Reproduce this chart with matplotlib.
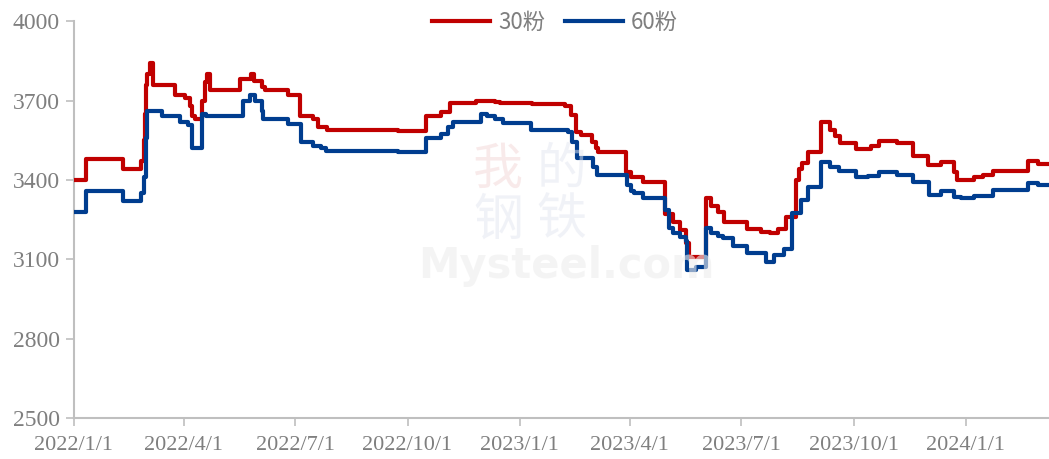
import numpy as np
import pandas as pd
import matplotlib
matplotlib.use("Agg")
import matplotlib.pyplot as plt

# 30粉 (step changes: start date, price)
red_dates = [
    "2022-01-01", "2022-01-11", "2022-02-10", "2022-02-25", "2022-02-27", "2022-02-28",
    "2022-03-01", "2022-03-02", "2022-03-04", "2022-03-07", "2022-03-25", "2022-04-02",
    "2022-04-06", "2022-04-08", "2022-04-10", "2022-04-16", "2022-04-18", "2022-04-20",
    "2022-04-22", "2022-05-17", "2022-05-26", "2022-05-28", "2022-06-04", "2022-06-06",
    "2022-06-25", "2022-07-05", "2022-07-16", "2022-07-20", "2022-07-27", "2022-09-23",
    "2022-10-16", "2022-10-28", "2022-11-05", "2022-11-26", "2022-12-12", "2022-12-16",
    "2023-01-11", "2023-02-07", "2023-02-12", "2023-02-16", "2023-02-20", "2023-03-01",
    "2023-03-04", "2023-03-06", "2023-03-29", "2023-04-02", "2023-04-12", "2023-04-30",
    "2023-05-06", "2023-05-12", "2023-05-17", "2023-05-19", "2023-06-02", "2023-06-06",
    "2023-06-12", "2023-06-17", "2023-07-06", "2023-07-17", "2023-07-25", "2023-07-31",
    "2023-08-07", "2023-08-15", "2023-08-17", "2023-08-20", "2023-08-25", "2023-09-04",
    "2023-09-12", "2023-09-16", "2023-09-20", "2023-10-03", "2023-10-15", "2023-10-22",
    "2023-11-06", "2023-11-19", "2023-12-01", "2023-12-12", "2023-12-22", "2023-12-25",
    "2024-01-08", "2024-01-15", "2024-01-23", "2024-02-21", "2024-02-29", "2024-03-09",
]
red_vals = [
    3400, 3480, 3440, 3470, 3550, 3650,
    3760, 3800, 3840, 3760, 3720, 3710,
    3680, 3640, 3630, 3700, 3770, 3800,
    3740, 3780, 3800, 3775, 3750, 3740,
    3720, 3640, 3630, 3600, 3590, 3585,
    3640, 3655, 3690, 3700, 3695, 3690,
    3685, 3680, 3645, 3580, 3570, 3545,
    3520, 3505, 3430, 3410, 3392, 3270,
    3240, 3210, 3160, 3108, 3330, 3300,
    3280, 3240, 3215, 3205, 3200, 3215,
    3260, 3400, 3440, 3465, 3505, 3618,
    3590, 3565, 3540, 3515, 3530, 3547,
    3540, 3490, 3455, 3467, 3430, 3400,
    3410, 3420, 3433, 3470, 3460, 3460,
]

# 60粉
blue_dates = [
    "2022-01-01", "2022-01-11", "2022-02-10", "2022-02-25", "2022-02-27", "2022-03-01",
    "2022-03-02", "2022-03-14", "2022-03-29", "2022-04-04", "2022-04-08", "2022-04-16",
    "2022-04-19", "2022-05-19", "2022-05-25", "2022-05-29", "2022-06-04", "2022-06-05",
    "2022-06-25", "2022-07-06", "2022-07-16", "2022-07-22", "2022-07-26", "2022-09-23",
    "2022-10-16", "2022-10-28", "2022-11-03", "2022-11-07", "2022-11-30", "2022-12-05",
    "2022-12-12", "2022-12-18", "2023-01-10", "2023-02-09", "2023-02-13", "2023-02-17",
    "2023-03-02", "2023-03-05", "2023-03-30", "2023-04-02", "2023-04-04", "2023-04-12",
    "2023-04-30", "2023-05-03", "2023-05-06", "2023-05-12", "2023-05-17", "2023-05-18",
    "2023-05-25", "2023-06-02", "2023-06-06", "2023-06-12", "2023-06-16", "2023-06-24",
    "2023-07-06", "2023-07-21", "2023-07-28", "2023-08-05", "2023-08-12", "2023-08-19",
    "2023-08-25", "2023-09-04", "2023-09-12", "2023-09-19", "2023-10-03", "2023-10-13",
    "2023-10-22", "2023-11-06", "2023-11-19", "2023-12-02", "2023-12-12", "2023-12-22",
    "2023-12-28", "2024-01-08", "2024-01-23", "2024-02-21", "2024-02-29", "2024-03-09",
]
blue_vals = [
    3280, 3360, 3320, 3350, 3410, 3560,
    3660, 3640, 3620, 3607, 3520, 3650,
    3640, 3700, 3720, 3700, 3660, 3630,
    3610, 3545, 3530, 3520, 3510, 3505,
    3560, 3573, 3600, 3620, 3650, 3640,
    3630, 3615, 3588, 3580, 3545, 3483,
    3450, 3418, 3380, 3360, 3350, 3331,
    3285, 3220, 3200, 3185, 3170, 3060,
    3070, 3220, 3200, 3190, 3180, 3150,
    3125, 3090, 3115, 3140, 3275, 3325,
    3373, 3467, 3450, 3433, 3410, 3415,
    3430, 3420, 3392, 3343, 3358, 3335,
    3330, 3340, 3362, 3390, 3380, 3380,
]

tick_dates = ["2022-01-01", "2022-04-01", "2022-07-01", "2022-10-01", "2023-01-01",
              "2023-04-01", "2023-07-01", "2023-10-01", "2024-01-01"]
tick_labels = ["2022/1/1", "2022/4/1", "2022/7/1", "2022/10/1", "2023/1/1",
               "2023/4/1", "2023/7/1", "2023/10/1", "2024/1/1"]
y_ticks = [2500, 2800, 3100, 3400, 3700, 4000]

plt.rcParams['font.family'] = ['Noto Sans CJK SC', 'DejaVu Sans']

fig = plt.figure(figsize=(10.49, 4.59), dpi=100)
ax = fig.add_axes([0.0705, 0.089, 0.9295, 0.865])

grey = "#bfbfbf"
label_col = "#7f7f7f"

#Watermark, very faint
wm = dict(ha="center", va="center", fontsize=36, alpha=0.5, family=["Noto Sans CJK SC"])
fig.text(0.475, 0.63, "我", color="#f3d6d6", **wm)
fig.text(0.535, 0.63, "的", color="#e3e6f0", **wm)
fig.text(0.475, 0.52, "钢", color="#e3e6f0", **wm)
fig.text(0.535, 0.52, "铁", color="#e3e6f0", **wm)
fig.text(0.54, 0.42, "Mysteel.com", ha="center", va="center", fontsize=30,
         color="#eeeeee", alpha=0.6, fontweight="bold", family=["DejaVu Sans"])

ax.plot(pd.to_datetime(red_dates), red_vals, drawstyle="steps-post",
        color="#C00000", lw=3.0, label="30粉", zorder=3)
ax.plot(pd.to_datetime(blue_dates), blue_vals, drawstyle="steps-post",
        color="#003D8F", lw=3.0, label="60粉", zorder=3)

ax.set_ylim(2500, 4000)
ax.set_xlim(pd.Timestamp("2022-01-01"), pd.Timestamp("2024-03-09"))
ax.set_yticks(y_ticks)
ax.set_xticks(pd.to_datetime(tick_dates))
ax.set_xticklabels(tick_labels)

for s in ["top", "right"]:
    ax.spines[s].set_visible(False)
for s in ["left", "bottom"]:
    ax.spines[s].set_color(grey)
    ax.spines[s].set_linewidth(1.5)

ax.tick_params(axis="both", colors=grey, length=6, width=1.2)
for lab in ax.get_xticklabels():
    lab.set_family(["Liberation Serif"])
    lab.set_fontsize(16)
    lab.set_color(label_col)
for lab in ax.get_yticklabels():
    lab.set_family(["Liberation Serif"])
    lab.set_fontsize(17)
    lab.set_color(label_col)
ax.tick_params(axis="x", pad=7)
ax.tick_params(axis="y", pad=4)

fig.legend(loc="center", bbox_to_anchor=(0.529, 0.952), ncol=2, frameon=False,
           fontsize=16, handlelength=2.6, columnspacing=0.9, handletextpad=0.35,
           labelcolor=label_col)

fig.savefig("out.png", dpi=100)
